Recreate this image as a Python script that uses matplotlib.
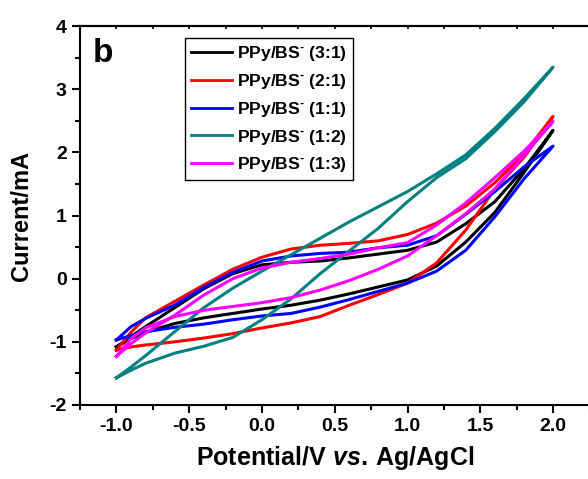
import matplotlib
matplotlib.use('Agg')
import matplotlib.pyplot as plt
import numpy as np

plt.rcParams['font.family'] = ['Liberation Sans', 'DejaVu Sans']
plt.rcParams['font.weight'] = 'bold'
plt.rcParams['mathtext.fontset'] = 'custom'
plt.rcParams['mathtext.rm'] = 'Liberation Sans:bold'
plt.rcParams['mathtext.bf'] = 'Liberation Sans:bold'
plt.rcParams['mathtext.it'] = 'Liberation Sans:bold:italic'

# potential grid (V vs. Ag/AgCl), forward scan then reverse scan
E_fwd = [-1.0, -0.9, -0.8, -0.6, -0.4, -0.2, 0.0, 0.2, 0.4, 0.6, 0.8, 1.0, 1.2, 1.4, 1.6, 1.8, 2.0]
E_rev = E_fwd[::-1]

ratios = ['3:1', '2:1', '1:1', '1:2', '1:3']
labels = [r'PPy/BS$^{\text{-}}$ (' + r + ')' for r in ratios]
colors = ['black', '#ff0000', '#0000ff', '#008080', '#ff00ff']

# current (mA) on the forward scan
fwd_31 = [-1.08, -0.92, -0.76, -0.46, -0.16, 0.08, 0.22, 0.26, 0.28, 0.33, 0.39, 0.45, 0.58, 0.87, 1.22, 1.74, 2.35]
fwd_21 = [-1.13, -0.85, -0.62, -0.36, -0.10, 0.15, 0.34, 0.47, 0.53, 0.56, 0.60, 0.70, 0.88, 1.15, 1.52, 1.98, 2.57]
fwd_11 = [-0.97, -0.76, -0.63, -0.42, -0.14, 0.10, 0.28, 0.36, 0.40, 0.42, 0.49, 0.53, 0.68, 1.02, 1.38, 1.77, 2.10]
fwd_12 = [-1.57, -1.40, -1.22, -0.84, -0.46, -0.15, 0.12, 0.38, 0.64, 0.90, 1.14, 1.38, 1.66, 1.96, 2.38, 2.85, 3.35]
fwd_13 = [-1.23, -1.03, -0.86, -0.58, -0.26, 0.00, 0.17, 0.26, 0.32, 0.39, 0.49, 0.57, 0.85, 1.20, 1.60, 2.02, 2.49]

# current (mA) on the reverse scan (from 2.0 V back to -1.0 V)
rev_31 = [2.35, 1.68, 1.05, 0.58, 0.20, -0.02, -0.13, -0.24, -0.34, -0.42, -0.48, -0.55, -0.62, -0.71, -0.85, -0.95, -1.08]
rev_21 = [2.57, 1.92, 1.42, 0.77, 0.25, -0.07, -0.25, -0.42, -0.60, -0.70, -0.78, -0.87, -0.94, -1.00, -1.05, -1.08, -1.13]
rev_11 = [2.10, 1.58, 0.98, 0.45, 0.12, -0.07, -0.20, -0.33, -0.45, -0.55, -0.59, -0.65, -0.72, -0.77, -0.84, -0.90, -0.97]
rev_12 = [3.35, 2.80, 2.33, 1.90, 1.60, 1.22, 0.80, 0.44, 0.08, -0.32, -0.65, -0.93, -1.07, -1.18, -1.34, -1.45, -1.57]
rev_13 = [2.49, 1.95, 1.42, 1.03, 0.68, 0.36, 0.15, -0.03, -0.18, -0.30, -0.38, -0.44, -0.50, -0.60, -0.78, -0.95, -1.23]

fwd = [fwd_31, fwd_21, fwd_11, fwd_12, fwd_13]
rev = [rev_31, rev_21, rev_11, rev_12, rev_13]

fig = plt.figure(figsize=(5.88, 4.79), dpi=100)
ax = fig.add_axes([0.136, 0.1545, 0.8665, 0.791])

for f, r, c, lab in zip(fwd, rev, colors, labels):
    ax.plot(E_fwd + E_rev, f + r, color=c, lw=2.2, label=lab)

ax.set_xlim(-1.25, 2.25)
ax.set_ylim(-2, 4)
ax.set_xticks(np.arange(-1.0, 2.01, 0.5))
ax.set_xticks(np.arange(-1.25, 2.26, 0.25), minor=True)
ax.set_yticks(np.arange(-2, 4.1, 1))
ax.set_yticks(np.arange(-2, 4.1, 0.5), minor=True)
ax.set_xticklabels(['-1.0', '-0.5', '0.0', '0.5', '1.0', '1.5', '2.0'])
ax.set_yticklabels(['-2', '-1', '0', '1', '2', '3', '4'])
ax.tick_params(which='major', direction='out', length=6, width=1.5, labelsize=14)
ax.tick_params(which='minor', direction='out', length=3.5, width=1.5)
for s in ax.spines.values():
    s.set_linewidth(1.5)

top = ax.secondary_xaxis('top')
top.set_xticks(np.arange(-1.25, 2.26, 0.25))
top.tick_params(direction='in', length=2.5, width=1.2, labeltop=False)
top.spines['top'].set_linewidth(1.5)

ax.set_xlabel(r'$\mathrm{Potential/V}\ \mathit{vs.}\,\mathrm{Ag/AgCl}$', fontsize=18, labelpad=6)
ax.set_ylabel('Current/mA', fontsize=17, fontweight='bold', labelpad=12)

ax.text(0.025, 0.905, 'b', transform=ax.transAxes, fontsize=24, fontweight='bold')

leg = ax.legend(loc='upper left', bbox_to_anchor=(0.206, 0.968), borderaxespad=0,
                fontsize=12.6, handlelength=2.35, handletextpad=0.25, labelspacing=0.5,
                fancybox=False, edgecolor='black', framealpha=1, borderpad=0.35)
leg.get_frame().set_linewidth(1.0)
for line in leg.get_lines():
    line.set_linewidth(2.0)

fig.savefig('out.png', dpi=100)
